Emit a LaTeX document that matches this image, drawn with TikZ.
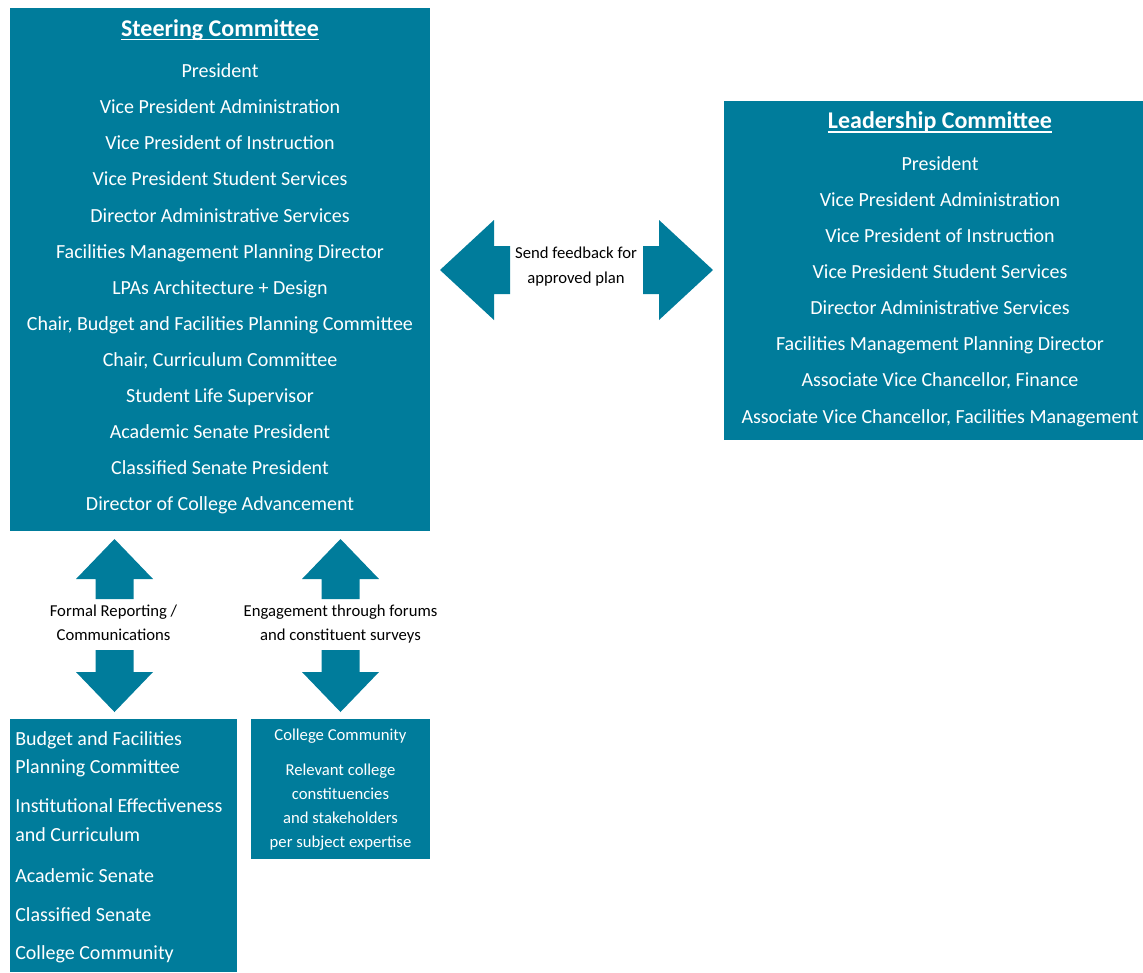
\documentclass[tikz,border=0pt]{standalone}
\usepackage{fontspec}
\setmainfont{Carlito}
\usepackage{xcolor}
\usetikzlibrary{positioning,fit}

\definecolor{panelblue}{RGB}{0,124,155}

\begin{document}
\begin{tikzpicture}[
  x=.75pt, y=-.75pt,
  panel/.style={fill=panelblue, inner sep=0pt},
  blockarrow/.style={fill=panelblue},
  heading/.style={font=\fontsize{18}{21}\selectfont\bfseries, text=white, anchor=base, inner sep=0pt},
  member/.style={font=\fontsize{15}{18}\selectfont, text=white, anchor=base},
  note/.style={font=\fontsize{12.5}{15}\selectfont, anchor=base},
  headrule/.style={draw=white, line width=1.2pt}
]
  \useasboundingbox (0,0) rectangle (1143,972);

  % the four boxes
  \node[panel, fit={(10,8) (430,531)}] (steer) {};
  \node[panel, fit={(724,101) (1143,440)}] (lead) {};
  \node[panel, fit={(10,719) (237,972)}] (groups) {};
  \node[panel, fit={(251,719) (430,859)}] (community) {};

  % steering committee
  \node[heading] (steer-title) at (220,36) {Steering Committee};
  \draw[headrule] ([yshift=-2.6pt]steer-title.base west) -- ([yshift=-2.6pt]steer-title.base east);
  \foreach \t [count=\i from 0] in {President, Vice President Administration,
      Vice President of Instruction, Vice President Student Services,
      Director Administrative Services, Facilities Management Planning Director,
      LPAs Architecture + Design, {Chair, Budget and Facilities Planning Committee},
      {Chair, Curriculum Committee}, Student Life Supervisor,
      Academic Senate President, Classified Senate President,
      Director of College Advancement}
    \node[member] (steer-\i) at (220,77.7+36.08*\i) {\t};

  % leadership committee
  \node[heading] (lead-title) at (940,128.3) {Leadership Committee};
  \draw[headrule] ([yshift=-2.6pt]lead-title.base west) -- ([yshift=-2.6pt]lead-title.base east);
  \foreach \t [count=\i from 0] in {President, Vice President Administration,
      Vice President of Instruction, Vice President Student Services,
      Director Administrative Services, Facilities Management Planning Director,
      {Associate Vice Chancellor, Finance},
      {Associate Vice Chancellor, Facilities Management}}
    \node[member] (lead-\i) at (940,170.5+36.08*\i) {\t};

  % groups reported to
  \foreach \y/\t [count=\i] in {745/Budget and Facilities, 773/Planning Committee,
      812/Institutional Effectiveness, 841/and Curriculum, 882/Academic Senate,
      921/Classified Senate, 959/College Community}
    \node[member, anchor=base west, inner sep=0pt] (group-\i) at (15,\y) {\t};

  % college community
  \foreach \y/\t [count=\i] in {740.7/College Community, 775/Relevant college,
      799.3/constituencies, 823.3/and stakeholders, 847.7/per subject expertise}
    \node[note, text=white] (comm-\i) at (340.5,\y) {\t};

  % block arrows
  \foreach \tipx/\s in {440/1, 713/-1}
    \fill[blockarrow] (\tipx,270) -- ++(54*\s,-50) -- ++(0,26) -- ++(16*\s,0)
      -- ++(0,48) -- ++(-16*\s,0) -- ++(0,26) -- cycle;
  \foreach \cx in {114.5,340.5} {
    \fill[blockarrow] (\cx,539) -- ++(38.5,40) -- ++(-19.5,0) -- ++(0,20)
      -- ++(-38,0) -- ++(0,-20) -- ++(-19.5,0) -- cycle;
    \fill[blockarrow] (\cx,712) -- ++(38.5,-40) -- ++(-19.5,0) -- ++(0,-22)
      -- ++(-38,0) -- ++(0,22) -- ++(-19.5,0) -- cycle;
  }

  % arrow labels
  \node[note] (feedback-1) at (576,258.5) {Send feedback for};
  \node[note] (feedback-2) at (576,283) {approved plan};
  \node[note] (formal-1) at (113.5,616) {Formal Reporting /};
  \node[note] (formal-2) at (113.5,640) {Communications};
  \node[note] (engage-1) at (340.5,616) {Engagement through forums};
  \node[note] (engage-2) at (340.5,640) {and constituent surveys};
\end{tikzpicture}
\end{document}
